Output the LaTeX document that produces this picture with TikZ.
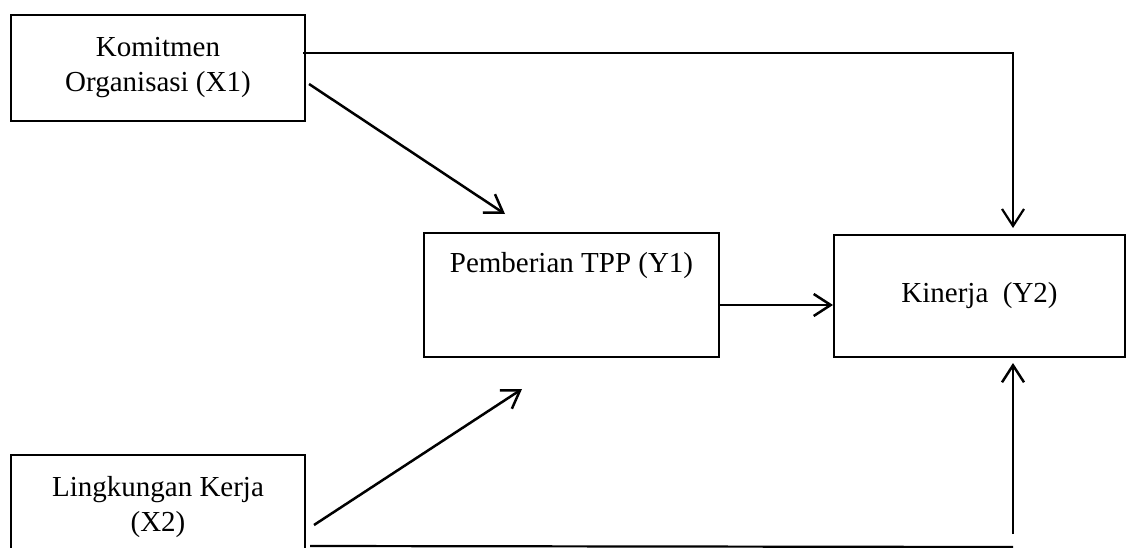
\documentclass[tikz,border=0pt]{standalone}
\usepackage{fontspec}
\setmainfont{Liberation Serif}
\usetikzlibrary{arrows.meta}
\begin{document}
\begin{tikzpicture}[x=1pt,y=1pt,
  box/.style={draw, line width=2pt, rectangle, align=center, inner sep=0pt, font=\fontsize{29}{35}\selectfont},
  lbl/.style={inner sep=0pt, font=\fontsize{29}{35}\selectfont},
  arr/.style={line width=2.5pt, -{Straight Barb[length=17pt,width=22pt,line width=2.5pt]}},
  thinarr/.style={line width=2pt, -{Straight Barb[length=17pt,width=22pt,line width=2.2pt]}},
  ln/.style={line width=2.2pt}]
\useasboundingbox (0,0) rectangle (1126,-548);
\clip (0,0) rectangle (1126,-548);
\node[box, minimum width=294pt, minimum height=106pt] (x1) at (158,-68) {Komitmen\\Organisasi (X1)};
\node[box, minimum width=295pt, minimum height=124pt] (y1) at (571.5,-295) {};
\node[lbl, anchor=base] (y1t) at (571.5,-272) {Pemberian TPP (Y1)};
\node[box, minimum width=291pt, minimum height=122pt] (y2) at (979.5,-296) {Kinerja\ \ (Y2)};
\node[box, minimum width=294pt, minimum height=105pt] (x2) at (158,-507.5) {Lingkungan Kerja\\(X2)};
\draw[thinarr] ([xshift=-3pt,yshift=15pt]x1.east) -| ([xshift=33.5pt,yshift=6pt]y2.north);
\draw[arr] ([xshift=3pt,yshift=-16pt]x1.east) -- ([xshift=-66.5pt,yshift=18pt]y1.north);
\draw[arr] ([yshift=-10pt]y1.east) -- ([yshift=-9pt]y2.west);
\draw[arr] ([xshift=8pt,yshift=-17.5pt]x2.east) -- ([xshift=-49.5pt,yshift=-31pt]y1.south);
\draw[ln] ([xshift=4pt,yshift=-38.5pt]x2.east) -- ([xshift=33.5pt,yshift=-189pt]y2.south);
\draw[arr] ([xshift=33.5pt,yshift=-176pt]y2.south) -- ([xshift=33.5pt,yshift=-5pt]y2.south);
\end{tikzpicture}
\end{document}
